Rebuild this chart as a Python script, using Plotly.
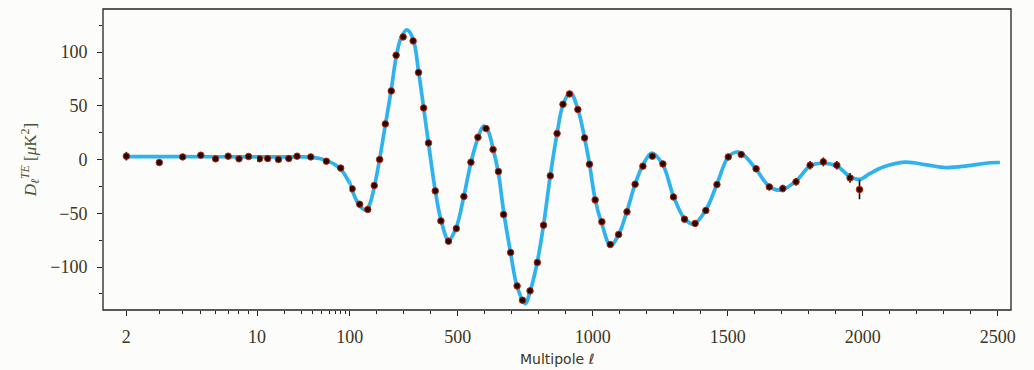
import math
import plotly.graph_objects as go

# ---------------- data ----------------
theory_ell = [2, 4, 10, 20, 30, 40, 50, 60, 70, 80, 90, 100, 110, 125, 140, 158, 172, 190,
              210, 232, 254, 272, 290, 312, 335, 355, 374, 392, 417, 438, 466, 495, 523,
              549, 575, 596, 612, 631, 651, 670, 696, 720, 750, 768, 795, 818, 843, 868,
              890, 917, 945, 970, 988, 1009, 1034, 1066, 1096, 1127, 1157, 1186, 1219,
              1260, 1299, 1340, 1374, 1419, 1460, 1501, 1534, 1560, 1605, 1654, 1698,
              1753, 1805, 1848, 1904, 1953, 1990, 2027, 2076, 2157, 2237, 2311, 2385,
              2471, 2508]
theory_dl = [2.6, 2.6, 2.5, 2.5, 2.4, 2.0, 0.5, -2.0, -5.0, -9.0, -15.0, -22.0, -29.0, -38.0,
             -44.0, -47.0, -43.0, -27.0, -1.0, 32.0, 65.0, 95.0, 113.0, 120.5, 112.0, 82.0,
             48.0, 15.0, -29.0, -56.0, -75.0, -63.0, -34.0, -3.0, 20.0, 31.0, 27.0, 10.0,
             -13.0, -48.0, -87.0, -118.0, -134.0, -123.0, -95.0, -61.0, -15.0, 24.0, 51.0,
             62.5, 47.0, 20.0, -4.0, -37.0, -60.0, -80.0, -70.0, -48.0, -23.0, -5.0, 6.0,
             -5.0, -34.0, -55.0, -60.0, -47.0, -23.0, 2.0, 7.0, 4.0, -9.0, -25.0, -28.5,
             -20.0, -6.0, -3.5, -6.0, -16.0, -18.5, -13.0, -7.0, -2.5, -5.0, -7.5, -6.0,
             -3.0, -2.8]

data_ell = [2, 3, 4, 5, 6, 7, 8, 9, 10.6, 13, 17, 22, 27, 38, 56, 80,
            109, 137, 167, 191, 211, 232, 254, 272, 298, 335, 355, 374, 392, 417, 438,
            466, 495, 523, 549, 575, 605, 631, 651, 670, 696, 720, 740, 768, 795, 818,
            843, 868, 890, 914, 945, 970, 988, 1009, 1034, 1065, 1096, 1127, 1157, 1186,
            1221, 1260, 1299, 1340, 1379, 1419, 1460, 1502, 1550, 1605, 1654, 1704, 1753,
            1805, 1854, 1904, 1953, 1988]
data_dl = [3.1, -2.8, 2.4, 4.0, 0.6, 3.1, 0.6, 2.8, 0.6, 0.9, 0.0, 0.9, 3.1, 2.4, -1.6, -8.0,
           -27.3, -41.6, -46.5, -24.2, 0.0, 33.1, 63.8, 97.0, 114.0, 110.3, 80.9, 48.0, 15.4,
           -29.2, -57.1, -76.0, -64.2, -34.4, -2.5, 20.7, 28.8, 9.3, -11.2, -51.2, -86.5,
           -117.6, -130.9, -122.2, -95.8, -61.1, -15.2, 24.2, 51.4, 61.0, 46.5, 20.1, -4.4,
           -37.6, -58.0, -79.1, -69.8, -48.7, -23.0, -6.2, 3.1, -4.1, -34.8, -55.5, -59.5,
           -47.4, -23.3, 2.4, 4.7, -8.7, -25.5, -27.0, -20.8, -5.3, -2.2, -5.3, -17.1, -27.9]
data_err = [4.0, 2.0, 2.0, 2.0, 2.0, 2.0, 2.0, 2.0, 2.0, 2.0, 2.0, 2.0, 2.0, 2.0, 2.0, 2.0,
            2.0, 2.0, 2.0, 2.0, 2.0, 2.0, 2.0, 2.0, 2.0, 2.0, 2.0, 2.0, 2.0, 2.0, 2.0,
            2.0, 2.0, 2.0, 2.0, 2.0, 2.0, 2.0, 2.0, 2.0, 2.0, 2.0, 2.0, 2.0, 2.0, 2.0,
            2.0, 2.0, 2.0, 2.0, 2.0, 2.0, 2.0, 2.0, 2.0, 2.0, 2.0, 2.0, 2.0, 2.0,
            2.0, 2.0, 2.0, 2.5, 2.5, 2.5, 2.5, 3.0, 3.0, 3.0, 3.0, 3.5, 3.5,
            4.0, 4.0, 4.0, 4.5, 9.0]

xticks_log1 = [2]
xticks_log2 = [10, 100]
xticks_lin = [500, 1000, 1500, 2000, 2500]
xminor_log1 = [3, 4, 5, 6, 7, 8, 9]
xminor_log2 = [20, 30, 40, 50, 60, 70, 80, 90]
yticks = [-100, -50, 0, 50, 100]

# ---------------- style ----------------
BG = "#fcfdfa"
LINE_C = "#2fb2ee"
TXT = "#3b3523"
SERIF = "Liberation Serif, DejaVu Serif, serif"

# pixel geometry -> domains
L, R = 102.5, 1011.0
W = R - L
d1 = (256.7 - L) / W
d2 = (349.3 - L) / W

fig = go.Figure()
for xa in ["x", "x2", "x3"]:
    fig.add_trace(go.Scatter(
        x=theory_ell, y=theory_dl, mode="lines",
        line=dict(color=LINE_C, width=3.7, shape="spline"),
        xaxis=xa, yaxis="y", showlegend=False, hoverinfo="skip"))
    fig.add_trace(go.Scatter(
        x=data_ell, y=data_dl, mode="markers",
        error_y=dict(type="data", array=data_err, color="#1a0a05", thickness=1.6, width=0),
        marker=dict(color="#2a0600", size=6.5, line=dict(color="#b52a10", width=1)),
        xaxis=xa, yaxis="y", showlegend=False, hoverinfo="skip"))

tickfont = dict(family=SERIF, size=18, color=TXT)
common = dict(showgrid=False, zeroline=False, showline=False, ticks="outside",
              ticklen=5, tickwidth=1, tickcolor="#222", tickfont=tickfont,
              anchor="y", ticklabelstandoff=5)

fig.update_layout(
    width=1034, height=370,
    margin=dict(l=L, r=1034 - R, t=9, b=60),
    paper_bgcolor=BG, plot_bgcolor=BG,
    xaxis=dict(type="log", domain=[0, d1], range=[math.log10(1.5), 1],
               tickmode="array", tickvals=xticks_log1, ticktext=[str(v) for v in xticks_log1],
               minor=dict(tickmode="array", tickvals=xminor_log1, ticks="outside",
                          ticklen=3, tickcolor="#222"),
               **common),
    xaxis2=dict(type="log", domain=[d1, d2], range=[1, 2],
                tickmode="array", tickvals=xticks_log2, ticktext=[str(v) for v in xticks_log2],
                minor=dict(tickmode="array", tickvals=xminor_log2, ticks="outside",
                           ticklen=3, tickcolor="#222"),
                **common),
    xaxis3=dict(type="linear", domain=[d2, 1], range=[100, 2549],
                tickmode="array", tickvals=xticks_lin, ticktext=[str(v) for v in xticks_lin],
                minor=dict(tickmode="linear", tick0=0, dtick=100, ticks="outside",
                           ticklen=3, tickcolor="#222"),
                **common),
    yaxis=dict(range=[-140, 140], tickmode="array", tickvals=yticks,
               showgrid=False, zeroline=False, showline=False, ticks="outside",
               ticklen=5, tickcolor="#222", tickfont=tickfont, ticklabelstandoff=6,
               minor=dict(tickmode="linear", tick0=0, dtick=25, ticks="outside",
                          ticklen=3, tickcolor="#222"),
               title=dict(text="<i>D</i><sub><i>ℓ</i></sub><sup><i>TE</i></sup> [<i>μ</i>K<sup>2</sup>]",
                          font=dict(family=SERIF, size=17, color="#4a5238"), standoff=9)),
    shapes=[dict(type="rect", xref="paper", yref="paper", x0=0, x1=1, y0=0, y1=1,
                 line=dict(color="#222", width=1.3), layer="above")],
    annotations=[dict(text="Multipole <i>ℓ</i>", xref="paper", yref="paper", x=0.5, y=0,
                      yshift=-49, showarrow=False, yanchor="middle",
                      font=dict(family="DejaVu Sans, sans-serif", size=14, color=TXT))],
)

fig.write_html("out.html", config={"displayModeBar": False})
